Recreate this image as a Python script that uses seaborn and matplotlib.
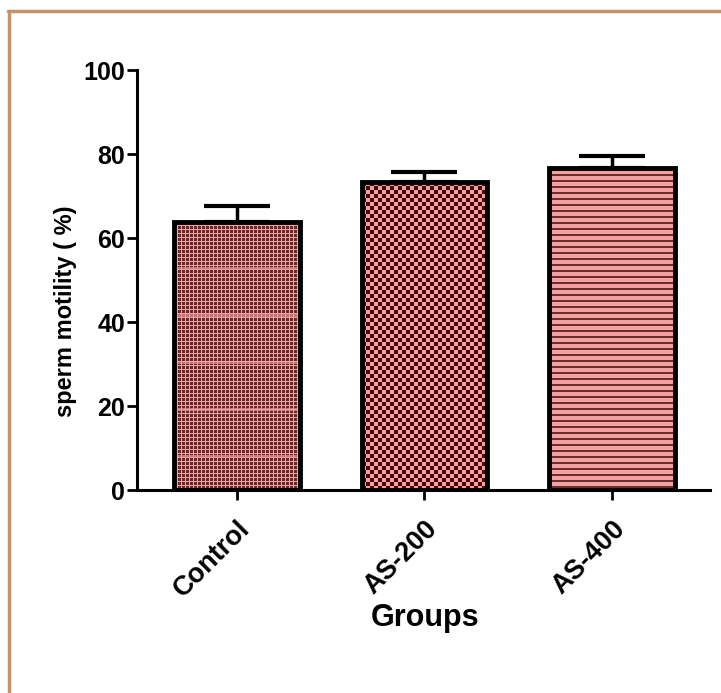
import numpy as np
import pandas as pd
import matplotlib
matplotlib.use('Agg')
import matplotlib.pyplot as plt
import seaborn as sns

# values
groups = ['Control', 'AS-200', 'AS-400']
motility = [63.8, 73.3, 76.6]
sem = [3.8, 2.5, 3.0]
yticks = [0, 20, 40, 60, 80, 100]

sns.set_theme(style='white', rc={'text.color': 'black', 'axes.labelcolor': 'black',
                                 'xtick.color': 'black', 'ytick.color': 'black'})
plt.rcParams['font.family'] = ['Liberation Sans', 'DejaVu Sans']
plt.rcParams['font.weight'] = 'bold'

df = pd.DataFrame({'group': groups, 'motility': motility})

fig = plt.figure(figsize=(7.21, 6.93), dpi=100)
fig.patch.set_facecolor('white')
ax = fig.add_axes([137 / 721, 1 - 490 / 693, (710 - 137) / 721, (490 - 70) / 693])

sns.barplot(data=df, x='group', y='motility', width=0.67, color='#f2a0a0',
            edgecolor='black', linewidth=3.5, ax=ax)
ax.set_xlim(-0.53, 2.52)
ax.set_ylim(0, 100)

# error bars (upper only, GraphPad style)
ax.errorbar(range(len(groups)), motility, yerr=[np.zeros(len(sem)), sem],
            fmt='none', ecolor='black', elinewidth=2.5, capsize=24, capthick=3, zorder=5)

# textures for the bars
pink = np.array([242, 160, 160]) / 255
dark = np.array([70, 10, 12]) / 255
stripe_dark = np.array([110, 45, 45]) / 255


def texture(kind, w, h):
    yy, xx = np.mgrid[0:h, 0:w]
    if kind == 'fine':
        m = ((xx % 4) < 3) & ((yy % 4) < 3)
        img = np.where(m[..., None], dark * 0.8 + pink * 0.2, pink)
        light = ((h - 1 - yy) % 47 > 31) & ((h - 1 - yy) % 47 < 35)
        img = np.where(light[..., None], img * 0.35 + pink * 0.65, img)
    elif kind == 'checker':
        m = ((xx // 4) + (yy // 4)) % 2 == 0
        img = np.where(m[..., None], dark, pink)
    else:
        m = (yy % 6) < 2
        img = np.where(m[..., None], stripe_dark, pink)
    return img


kinds = ['fine', 'checker', 'stripes']
fig.canvas.draw()
for patch, kind in zip(ax.patches, kinds):
    x0, y0, w, h = patch.get_x(), patch.get_y(), patch.get_width(), patch.get_height()
    p0 = ax.transData.transform((x0, y0))
    p1 = ax.transData.transform((x0 + w, y0 + h))
    wp, hp = int(abs(p1[0] - p0[0])) + 1, int(abs(p1[1] - p0[1])) + 1
    im = ax.imshow(texture(kind, wp, hp), extent=(x0, x0 + w, y0, y0 + h),
                   origin='upper', interpolation='nearest', aspect='auto', zorder=1)
    im.set_clip_path(patch)
    patch.set_facecolor('none')
    patch.set_zorder(2)
ax.set_xlim(-0.53, 2.52)
ax.set_ylim(0, 100)

sns.despine(ax=ax)
for s in ['left', 'bottom']:
    ax.spines[s].set_linewidth(2.2)
    ax.spines[s].set_color('black')

ax.set_yticks(yticks)
ax.tick_params(axis='both', direction='out', length=7.5, width=2, color='black',
               left=True, bottom=True, labelsize=18, pad=1)
ax.tick_params(axis='x', pad=11)
ax.set_xticks(range(len(groups)))
ax.set_xticklabels(groups, rotation=45, ha='right', rotation_mode='anchor',
                   fontsize=19.5, fontweight='bold')
for t in ax.get_yticklabels():
    t.set_fontweight('bold')

ax.set_xlabel('Groups', fontsize=22, fontweight='bold')
ax.set_ylabel('sperm motility ( %)', fontsize=17, fontweight='bold')
ax.xaxis.set_label_coords(0.503, -0.268)
ax.yaxis.set_label_coords(-0.105, 0.425)

# tan frame round the picture (top and left)
fig.add_artist(plt.Line2D([9 / 721, 9 / 721], [0, 1 - 11 / 693], transform=fig.transFigure,
                          color='#c2926c', linewidth=2.5))
fig.add_artist(plt.Line2D([8 / 721, 1], [1 - 11 / 693, 1 - 11 / 693], transform=fig.transFigure,
                          color='#c2926c', linewidth=2.5))

fig.savefig('out.png', dpi=100)
